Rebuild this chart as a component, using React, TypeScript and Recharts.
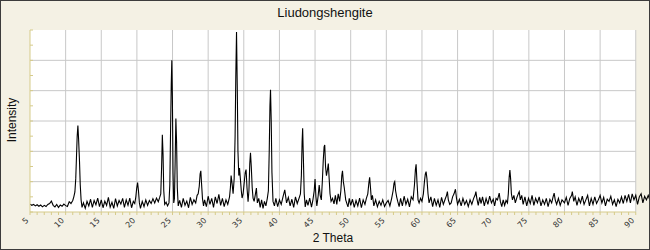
import { LineChart, Line, XAxis, YAxis, ReferenceLine, ReferenceArea } from 'recharts';

// diffraction scan as [2 theta, intensity]
const scan05to20: [number, number][] = [
  [5.0, 26], [5.25, 22], [5.5, 25], [5.75, 20], [6.0, 24], [6.25, 19], [6.5, 23], [6.75, 17],
  [7.0, 22], [7.25, 18], [7.5, 25], [7.75, 28], [8.0, 36], [8.25, 22], [8.5, 17], [8.75, 25],
  [9.0, 15], [9.25, 23], [9.5, 19], [9.75, 26], [10.0, 21], [10.25, 18], [10.5, 34], [10.75, 28],
  [11.0, 38], [11.15, 50], [11.3, 66], [11.42, 110], [11.52, 180], [11.62, 250], [11.72, 285],
  [11.82, 240], [11.95, 165], [12.05, 90], [12.17, 40], [12.3, 15], [12.5, 30], [12.75, 12],
  [13.0, 35], [13.25, 20], [13.5, 42], [13.75, 15], [14.0, 38], [14.25, 24], [14.5, 46], [14.75, 18],
  [15.0, 40], [15.25, 14], [15.5, 36], [15.75, 22], [16.0, 48], [16.25, 16], [16.5, 32], [16.75, 12],
  [17.0, 44], [17.25, 20], [17.5, 38], [17.75, 26], [18.0, 45], [18.25, 15], [18.5, 40], [18.75, 22],
  [19.0, 46], [19.25, 14], [19.5, 35], [19.7, 28], [19.85, 50], [19.97, 78], [20.1, 97], [20.22, 70],
  [20.35, 30], [20.5, 12],
];

const scan20to33: [number, number][] = [
  [20.75, 35], [21.0, 18], [21.25, 40], [21.5, 22], [21.75, 38], [22.0, 28], [22.25, 44], [22.5, 30],
  [22.75, 46], [23.0, 34], [23.2, 48], [23.35, 60], [23.47, 150], [23.57, 255], [23.67, 190], [23.77, 70],
  [23.9, 25], [24.1, 32], [24.3, 20], [24.5, 30], [24.62, 90], [24.72, 260], [24.82, 420], [24.9, 500],
  [24.98, 380], [25.07, 130], [25.17, 30], [25.27, 45], [25.37, 170], [25.47, 308], [25.57, 230],
  [25.67, 80], [25.8, 20], [26.0, 38], [26.25, 15], [26.5, 45], [26.75, 22], [27.0, 36], [27.25, 14],
  [27.5, 48], [27.75, 25], [28.0, 40], [28.25, 30], [28.45, 55], [28.6, 60], [28.75, 85], [28.87, 125],
  [28.97, 136], [29.07, 95], [29.2, 45], [29.35, 20], [29.5, 40], [29.75, 18], [30.0, 52], [30.25, 25],
  [30.5, 45], [30.75, 15], [31.0, 50], [31.25, 28], [31.5, 58], [31.75, 22], [32.0, 45], [32.25, 18],
  [32.5, 40], [32.75, 25], [33.0, 50],
];

const scan33to50: [number, number][] = [
  [33.12, 80], [33.22, 120], [33.35, 95], [33.5, 60], [33.65, 110], [33.78, 250], [33.88, 450],
  [33.98, 593], [34.08, 420], [34.18, 200], [34.3, 120], [34.4, 145], [34.52, 110], [34.65, 70],
  [34.76, 46], [34.9, 60], [35.05, 95], [35.2, 130], [35.32, 140], [35.45, 80], [35.6, 34], [35.72, 70],
  [35.84, 160], [35.94, 195], [36.05, 150], [36.18, 80], [36.3, 46], [36.45, 35], [36.6, 55], [36.77, 79],
  [36.9, 30], [37.1, 45], [37.3, 15], [37.5, 40], [37.7, 12], [37.9, 35], [38.1, 20], [38.3, 45],
  [38.45, 70], [38.57, 200], [38.67, 350], [38.75, 403], [38.85, 300], [38.95, 130], [39.1, 35],
  [39.3, 20], [39.5, 45], [39.75, 18], [40.0, 40], [40.25, 25], [40.5, 50], [40.75, 73], [41.0, 30],
  [41.25, 48], [41.5, 20], [41.75, 42], [42.0, 15], [42.25, 50], [42.5, 28], [42.75, 45], [42.95, 60],
  [43.08, 120], [43.18, 230], [43.26, 276], [43.36, 180], [43.48, 60], [43.62, 17], [43.8, 40],
  [44.0, 22], [44.25, 46], [44.5, 16], [44.7, 40], [44.88, 70], [45.0, 109], [45.12, 50], [45.25, 20],
  [45.42, 50], [45.58, 89], [45.72, 55], [45.88, 40], [46.02, 100], [46.15, 170], [46.27, 215],
  [46.36, 221], [46.47, 150], [46.6, 120], [46.75, 140], [46.86, 160], [46.98, 110], [47.1, 60],
  [47.25, 35], [47.45, 45], [47.66, 27], [47.85, 55], [48.05, 25], [48.25, 60], [48.45, 35], [48.62, 70],
  [48.75, 120], [48.85, 136], [48.97, 100], [49.1, 80], [49.3, 40], [49.5, 25], [49.62, 17], [49.8, 45],
  [50.0, 22],
];

const scan50to66: [number, number][] = [
  [50.25, 42], [50.5, 15], [50.75, 38], [51.0, 20], [51.25, 46], [51.5, 14], [51.75, 40], [52.0, 25],
  [52.2, 45], [52.4, 60], [52.55, 95], [52.66, 114], [52.78, 80], [52.9, 40], [53.05, 55], [53.25, 20],
  [53.5, 40], [53.75, 17], [54.0, 35], [54.25, 22], [54.5, 40], [54.75, 18], [55.0, 30], [55.25, 38],
  [55.5, 20], [55.75, 45], [55.95, 70], [56.08, 95], [56.18, 100], [56.3, 70], [56.45, 50], [56.6, 35],
  [56.8, 18], [57.0, 45], [57.25, 20], [57.5, 52], [57.75, 25], [58.0, 42], [58.25, 17], [58.5, 50],
  [58.75, 40], [58.95, 90], [59.08, 140], [59.18, 157], [59.3, 100], [59.45, 40], [59.6, 30], [59.8, 45],
  [60.0, 35], [60.2, 60], [60.35, 100], [60.47, 125], [60.58, 133], [60.7, 110], [60.85, 60], [61.0, 30],
  [61.25, 50], [61.5, 18], [61.75, 45], [62.0, 22], [62.25, 40], [62.5, 15], [62.75, 48], [63.0, 25],
  [63.25, 42], [63.45, 55], [63.57, 67], [63.7, 40], [63.9, 25], [64.1, 30], [64.3, 50], [64.5, 60],
  [64.7, 75], [64.85, 45], [65.0, 25], [65.25, 42], [65.5, 20], [65.75, 45], [66.0, 25],
];

const scan66to92: [number, number][] = [
  [66.25, 38], [66.5, 18], [66.75, 40], [67.0, 25], [67.25, 45], [67.45, 55], [67.57, 67], [67.7, 45],
  [67.9, 22], [68.1, 48], [68.3, 28], [68.5, 50], [68.75, 20], [69.0, 45], [69.25, 25], [69.5, 52],
  [69.75, 30], [70.0, 42], [70.2, 20], [70.4, 45], [70.6, 40], [70.84, 62], [71.0, 35], [71.2, 18],
  [71.4, 40], [71.6, 22], [71.8, 38], [72.0, 30], [72.12, 60], [72.24, 115], [72.34, 138], [72.44, 110],
  [72.55, 60], [72.7, 40], [72.9, 55], [73.1, 30], [73.35, 50], [73.55, 62], [73.65, 67], [73.8, 40],
  [74.0, 55], [74.2, 25], [74.45, 50], [74.7, 20], [74.95, 45], [75.2, 28], [75.45, 55], [75.7, 22],
  [75.95, 45], [76.2, 30], [76.45, 50], [76.7, 20], [76.95, 40], [77.2, 25], [77.45, 45], [77.7, 18],
  [77.95, 42], [78.2, 30], [78.4, 50], [78.55, 62], [78.7, 40], [78.9, 25], [79.15, 45], [79.4, 22],
  [79.65, 40], [80.0, 30], [80.25, 48], [80.5, 22], [80.75, 45], [81.0, 55], [81.1, 67], [81.3, 35],
  [81.5, 50], [81.75, 22], [82.0, 45], [82.25, 30], [82.5, 52], [82.75, 25], [83.0, 40], [83.25, 55],
  [83.5, 20], [83.75, 45], [84.0, 25], [84.25, 50], [84.5, 28], [84.75, 40], [85.0, 55], [85.25, 30],
  [85.5, 48], [85.75, 20], [86.0, 42], [86.25, 35], [86.5, 52], [86.75, 25], [87.0, 40], [87.25, 18],
  [87.5, 42], [87.75, 30], [88.0, 50], [88.25, 28], [88.5, 55], [88.75, 35], [89.0, 58], [89.25, 30],
  [89.5, 60], [89.75, 40], [90.0, 55], [90.25, 25], [90.5, 50], [90.75, 60], [91.0, 30], [91.25, 52],
  [91.5, 40], [91.75, 55], [92.0, 38],
];

const thetaMajor = [5, 10, 15, 20, 25, 30, 35, 40, 45, 50, 55, 60, 65, 70, 75, 80, 85, 90];
const intensityGrid = [100, 200, 300, 400, 500];

const data = [...scan05to20, ...scan20to33, ...scan33to50, ...scan50to66, ...scan66to92].map(
  ([theta, intensity]) => ({ theta, intensity })
);

const xTicks: number[] = [];
for (let t = 5; t <= 90; t++) xTicks.push(t);
const yTicks: number[] = [];
for (let v = 0; v <= 600; v += 50) yTicks.push(v);

const AXIS = '#d6cb8a';
const GRID = '#c8c8c8';
const BG = '#f4f1e4';

function ThetaTick(props: any) {
  const { x, y, payload } = props;
  const major = payload.value % 5 === 0;
  const ly = y + 9;
  return (
    <g>
      <line x1={x} x2={x} y1={y} y2={y + 3} stroke={AXIS} />
      {major && (
        <text
          x={x - 1}
          y={ly}
          transform={`rotate(-45 ${x - 1} ${ly})`}
          textAnchor="end"
          fontSize={8}
          fontFamily="DejaVu Sans"
          fill="#333"
        >
          {payload.value}
        </text>
      )}
    </g>
  );
}

function IntensityTick(props: any) {
  const { x, y } = props;
  return <line x1={x} x2={x + 3} y1={y} y2={y} stroke={AXIS} />;
}

export default function App() {
  return (
    <div style={{ position: 'absolute', left: 0, top: 0, width: 650, height: 250, background: BG }}>
      <LineChart width={650} height={250} data={data} margin={{ top: 30, right: 0, bottom: 0, left: 0 }}>
        <XAxis
          type="number"
          dataKey="theta"
          domain={[5, 92]}
          allowDataOverflow
          ticks={xTicks}
          interval={0}
          tick={<ThetaTick />}
          tickLine={false}
          axisLine={false}
          tickSize={0}
          tickMargin={0}
          height={38}
        />
        <YAxis
          type="number"
          domain={[0, 600]}
          allowDataOverflow
          ticks={yTicks}
          interval={0}
          tick={<IntensityTick />}
          tickLine={false}
          axisLine={{ stroke: AXIS }}
          tickSize={0}
          tickMargin={0}
          width={30}
        />
        <ReferenceArea x1={5} x2={90} y1={0} y2={600} fill="#fff" fillOpacity={1} stroke="none" />
        {thetaMajor.slice(1).map((t) => (
          <ReferenceLine key={'v' + t} x={t} stroke={GRID} />
        ))}
        {intensityGrid.map((v) => (
          <ReferenceLine key={'h' + v} segment={[{ x: 5, y: v }, { x: 90, y: v }]} stroke={GRID} />
        ))}
        <ReferenceLine segment={[{ x: 5, y: 0 }, { x: 90, y: 0 }]} stroke={AXIS} />
        <Line
          type="linear"
          dataKey="intensity"
          stroke="#000"
          strokeWidth={1.1}
          dot={false}
          isAnimationActive={false}
        />
      </LineChart>
      <svg width={650} height={250} style={{ position: 'absolute', left: 0, top: 0, pointerEvents: 'none' }}>
        <text x={325} y={17} textAnchor="middle" fontSize={13} fontFamily="Liberation Sans, Arial" fill="#111">
          Liudongshengite
        </text>
        <text x={333} y={242} textAnchor="middle" fontSize={12} fontFamily="Liberation Sans, Arial" fill="#111">
          2 Theta
        </text>
        <text
          x={16}
          y={120}
          transform="rotate(-90 16 120)"
          textAnchor="middle"
          fontSize={12}
          fontFamily="Liberation Sans, Arial"
          fill="#111"
        >
          Intensity
        </text>
      </svg>
      <div
        style={{
          position: 'absolute',
          left: 0,
          top: 0,
          width: 650,
          height: 250,
          boxSizing: 'border-box',
          border: '1px solid #3c3c3c',
          pointerEvents: 'none',
        }}
      />
    </div>
  );
}
